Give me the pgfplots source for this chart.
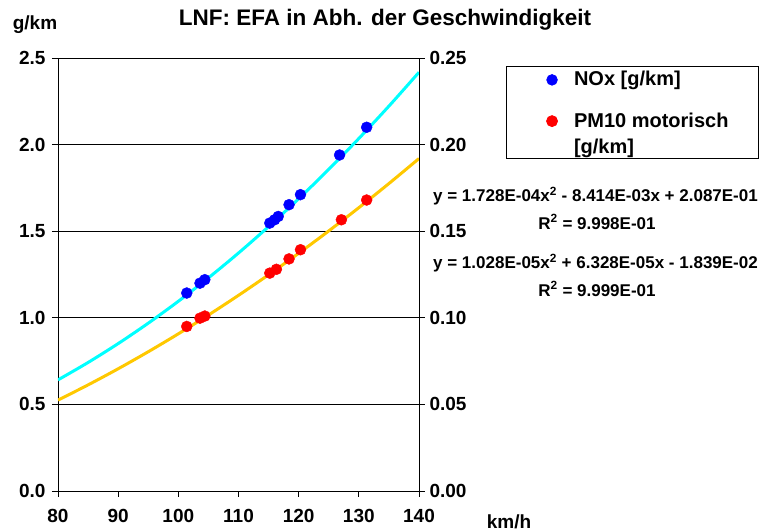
\documentclass[border=0pt]{standalone}
\usepackage{pgfplots}
\pgfplotsset{compat=1.18}
\usepackage{fontspec}
\setmainfont{Liberation Sans}
\definecolor{noxdot}{RGB}{0,0,255}
\definecolor{pmdot}{RGB}{255,0,0}
\definecolor{noxline}{RGB}{0,255,255}
\definecolor{pmline}{RGB}{255,200,0}
\begin{document}
\begin{tikzpicture}[x=1pt,y=1pt]
\useasboundingbox (-58,-41) rectangle (705,491);
\pgfplotsset{
  common/.style={
    scale only axis, width=361pt, height=433pt,
    at={(0,0)}, anchor=south west,
    xmin=80, xmax=140,
    tick align=outside, major tick length=6pt,
    /pgf/number format/assume math mode=true,
    tick label style={font=\bfseries\fontsize{19}{22}\selectfont},
    axis line style={black, line width=0.8pt},
    every tick/.style={black, line width=0.8pt},
  }
}
\begin{axis}[common,
  ymin=0, ymax=2.5,
  xtick={80,90,...,140},
  ytick={0,0.5,1,1.5,2,2.5},
  yticklabel style={xshift=-3pt, /pgf/number format/fixed, /pgf/number format/fixed zerofill, /pgf/number format/precision=1},
  xticklabel style={yshift=-9pt},
  axis y line*=left, axis x line*=bottom,
  ymajorgrids, grid style={black, line width=0.8pt},
]
\addplot[only marks, mark=*, mark size=5.5pt, mark options={draw=noxdot, fill=noxdot}] coordinates {
 (101.4,1.143) (103.6,1.20) (104.4,1.22)
 (115.2,1.547) (116.0,1.566) (116.6,1.585)
 (118.4,1.653) (120.3,1.711) (126.8,1.94) (131.3,2.10)
};
\addplot[noxline, line width=3pt, smooth, no marks] coordinates {
 (80,0.6415) (85,0.7420) (90,0.8511) (95,0.9689) (100,1.0953) (105,1.2304)
 (110,1.3740) (115,1.5264) (120,1.6873) (125,1.8570) (130,2.0352) (135,2.2221) (140,2.4176)
};
\end{axis}
\begin{axis}[common,
  ymin=0, ymax=0.25,
  axis y line*=right, axis x line=none,
  ytick={0,0.05,0.1,0.15,0.2,0.25},
  yticklabel style={xshift=1pt, /pgf/number format/fixed, /pgf/number format/fixed zerofill, /pgf/number format/precision=2},
  legend style={at={(1.24,0.9815)}, anchor=north west, draw=black, line width=0.8pt,
    font=\bfseries\fontsize{20}{23}\selectfont, inner xsep=0pt, inner ysep=5pt,
    nodes={inner sep=0pt, text depth=},
    cells={anchor=base west}, row sep=22.5pt, column sep=0pt},
  legend image code/.code={%
    \pgfpathrectangle{\pgfpointorigin}{\pgfpoint{68pt}{12pt}}%
    \pgfusepath{use as bounding box}%
    \draw[#1] plot coordinates {(46pt,6pt)};},
]
\addlegendimage{only marks, mark=*, mark size=5.3pt, mark options={draw=noxdot, fill=noxdot}}
\addlegendentry{NOx [g/km]}
\addplot[only marks, mark=*, mark size=5.5pt, mark options={draw=pmdot, fill=pmdot}] coordinates {
 (101.4,0.095) (103.6,0.0998) (104.4,0.101)
 (115.2,0.1258) (116.3,0.128) (118.4,0.134) (120.3,0.1393)
 (127.1,0.1566) (131.3,0.168)
};
\addlegendentry{\vtop{\hbox{PM10 motorisch\hspace*{30pt}}\kern 3pt\hbox{\raisebox{0pt}[\height][0pt]{[g/km]}}}}
\addplot[pmline, line width=3pt, smooth, no marks, forget plot] coordinates {
 (80,0.05246) (85,0.06126) (90,0.07057) (95,0.08040) (100,0.09074) (105,0.10159)
 (110,0.11296) (115,0.12484) (120,0.13724) (125,0.15015) (130,0.16357) (135,0.17751) (140,0.19196)
};
\end{axis}
\node[font=\bfseries\fontsize{22.5}{26}\selectfont] at (327,471) {LNF: EFA in Abh. der Geschwindigkeit};
\node[font=\bfseries\fontsize{19}{22}\selectfont] at (-23,466) {g/km};
\node[font=\bfseries\fontsize{19}{22}\selectfont] at (451,-31) {km/h};
\node[font=\bfseries\fontsize{17}{20}\selectfont] at (537.5,295) {y = 1.728E-04x\textsuperscript{2} - 8.414E-03x + 2.087E-01};
\node[font=\bfseries\fontsize{17}{20}\selectfont] at (539,269) {R\textsuperscript{2} = 9.998E-01};
\node[font=\bfseries\fontsize{17}{20}\selectfont] at (537.5,228) {y = 1.028E-05x\textsuperscript{2} + 6.328E-05x - 1.839E-02};
\node[font=\bfseries\fontsize{17}{20}\selectfont] at (539,202) {R\textsuperscript{2} = 9.999E-01};
\end{tikzpicture}
\end{document}
